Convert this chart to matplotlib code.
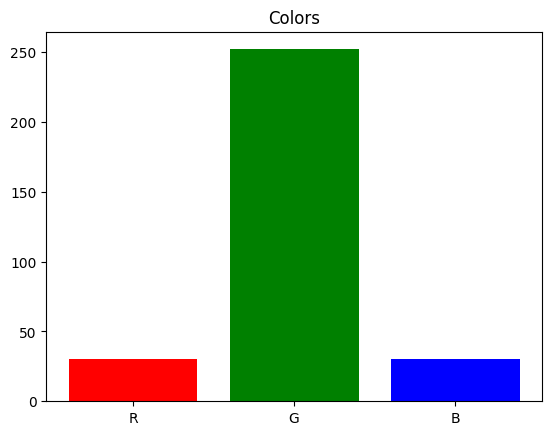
import matplotlib
matplotlib.use('Agg')
import matplotlib.pyplot as plt

labels = ['R', 'G', 'B']
values = [30, 252, 30]
colors = ['red', 'green', 'blue']

plt.figure(figsize=(6.4, 4.8))
plt.bar(labels, values, color=colors)
plt.title('Colors')
plt.savefig('out.png', dpi=100, bbox_inches='tight')
